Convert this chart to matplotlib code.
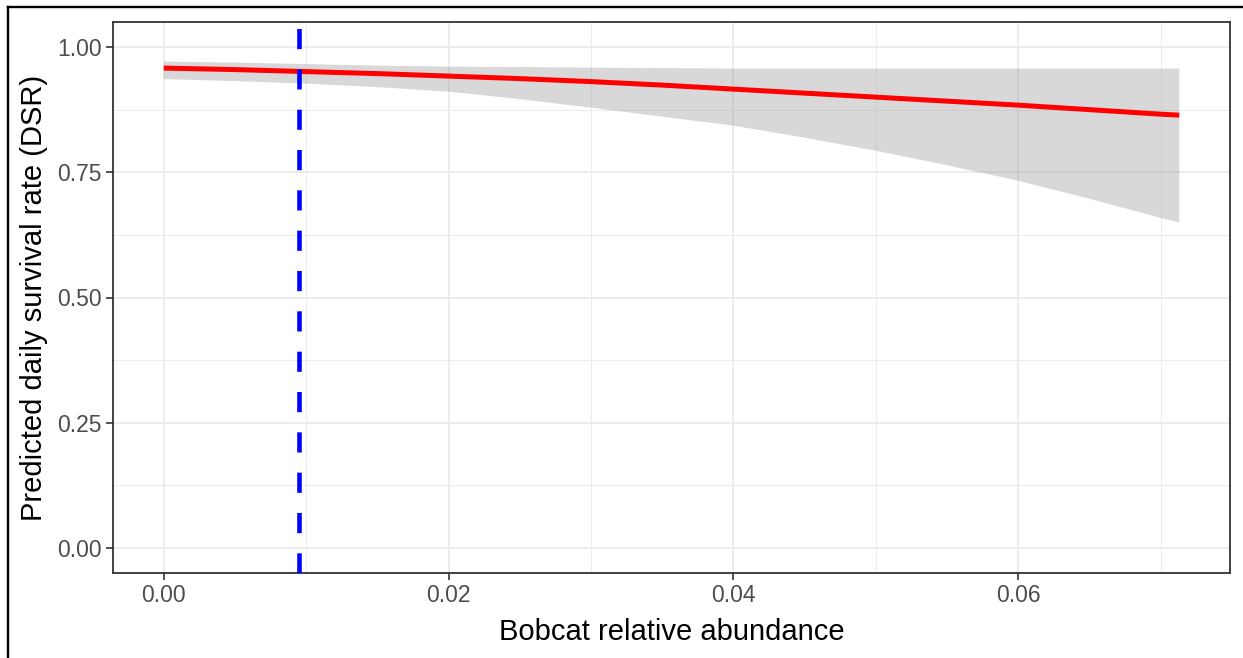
import matplotlib
matplotlib.use("Agg")
import matplotlib.pyplot as plt
from matplotlib.lines import Line2D
from matplotlib.ticker import MultipleLocator

plt.rcParams['font.family'] = ['Liberation Sans', 'DejaVu Sans']

# Data
abundance = [0.0, 0.005, 0.01, 0.015, 0.02, 0.025, 0.03, 0.035, 0.04, 0.045,
             0.05, 0.055, 0.06, 0.065, 0.07, 0.0713]
dsr = [0.958, 0.955, 0.951, 0.947, 0.942, 0.937, 0.931, 0.924, 0.916, 0.908,
       0.900, 0.892, 0.884, 0.875, 0.866, 0.864]
dsr_upper = [0.971, 0.969, 0.966, 0.963, 0.961, 0.960, 0.959, 0.958, 0.957, 0.957,
             0.957, 0.957, 0.957, 0.957, 0.957, 0.957]
dsr_lower = [0.936, 0.932, 0.927, 0.920, 0.911, 0.896, 0.879, 0.861, 0.843, 0.819,
             0.793, 0.764, 0.733, 0.697, 0.659, 0.650]
vline_x = 0.0095

x_ticks = [0.00, 0.02, 0.04, 0.06]
x_ticklabels = ["0.00", "0.02", "0.04", "0.06"]
y_ticks = [0.00, 0.25, 0.50, 0.75, 1.00]
y_ticklabels = ["0.00", "0.25", "0.50", "0.75", "1.00"]

W, H = 1243, 658
fig = plt.figure(figsize=(W / 100, H / 100), dpi=100)
fig.patch.set_facecolor("white")

ax_l, ax_r, ax_t, ax_b = 113, 1230, 22, 573
ax = fig.add_axes([ax_l / W, 1 - ax_b / H, (ax_r - ax_l) / W, (ax_b - ax_t) / H])

xmin, xmax = abundance[0], abundance[-1]
xr = xmax - xmin
ax.set_xlim(xmin - 0.05 * xr, xmax + 0.05 * xr)
ax.set_ylim(-0.05, 1.05)

# grid
ax.set_xticks(x_ticks)
ax.set_xticklabels(x_ticklabels)
ax.set_yticks(y_ticks)
ax.set_yticklabels(y_ticklabels)
ax.xaxis.set_minor_locator(MultipleLocator(0.01))
ax.yaxis.set_minor_locator(MultipleLocator(0.125))
ax.grid(True, which="major", color="#EBEBEB", linewidth=1.3, zorder=0)
ax.grid(True, which="minor", color="#EBEBEB", linewidth=0.7, zorder=0)
ax.set_axisbelow(True)

ax.fill_between(abundance, dsr_lower, dsr_upper, facecolor="#999999", alpha=0.38,
                edgecolor="none", zorder=2)
ax.plot(abundance, dsr, color="#FF0000", linewidth=3.6, zorder=3, solid_capstyle="butt")
ax.axvline(vline_x, color="#0000FF", linewidth=3.3, dashes=(4.4, 4.4), zorder=4)

for s in ax.spines.values():
    s.set_color("#333333")
    s.set_linewidth(1.3)

ax.tick_params(which="major", length=5, width=1.2, color="#333333",
               labelsize=16.5, labelcolor="#4D4D4D", pad=3)
ax.tick_params(which="minor", length=0)

ax.set_xlabel("Bobcat relative abundance", fontsize=21, color="black", labelpad=7.5)
ax.set_ylabel("Predicted daily survival rate (DSR)", fontsize=21, color="black", labelpad=7)

# outer frame (top and left edges of the screenshot)
fig.add_artist(Line2D([8 / W, 1.0], [1 - 7 / H, 1 - 7 / H], transform=fig.transFigure,
                      color="black", linewidth=1.7))
fig.add_artist(Line2D([8 / W, 8 / W], [0.0, 1 - 7 / H], transform=fig.transFigure,
                      color="black", linewidth=1.7))

fig.savefig("out.png", dpi=100)
